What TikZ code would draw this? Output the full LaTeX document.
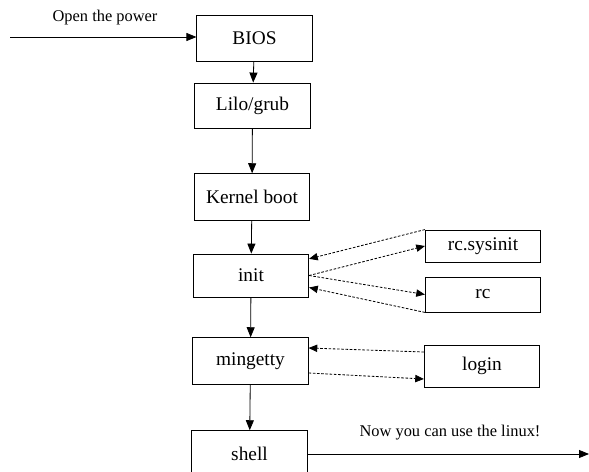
\documentclass[tikz,border=0pt]{standalone}
\usepackage{fontspec}
\setmainfont{Liberation Serif}
\usetikzlibrary{arrows.meta,backgrounds}

\begin{document}
\begin{tikzpicture}[
    x=0.3mm,y=-0.3mm,line width=0.7pt,
    font=\fontsize{16.5}{19}\selectfont,
    box/.style={draw,minimum width=34.6mm,minimum height=14mm,inner sep=0pt},
    flow/.style={-{Triangle[length=3mm,width=2.4mm]}},
    call/.style={dashed,dash pattern=on 2.2pt off 1.4pt,-{Triangle[length=2.6mm,width=2.2mm]}},
    lbl/.style={font=\fontsize{14}{17}\selectfont},
    show background rectangle,background rectangle/.style={fill=white}
]
\useasboundingbox (0,0) rectangle (589,472);

\node[box] (bios) at (254.5,38.5) {BIOS};
\node[box,minimum height=13.5mm] (lilo) at (252.5,105.5) {Lilo/grub};
\node[box] (kernel) at (252,197) {Kernel boot};
\node[box,minimum height=12.9mm] (init) at (251,275.5) {init};
\node[box] (mingetty) at (250.5,361) {mingetty};
\node[box] (shell) at (249.5,454) {shell};

\node[box,minimum height=9.6mm] (sysinit) at (483,246) {rc.sysinit};
\node[box,minimum height=10.5mm] (rc) at (483,294.5) {rc};
\node[box,minimum height=12.6mm] (login) at (482,366) {login};

\coordinate (power) at (10,37);
\coordinate (linux) at (589,454);
\node[lbl] (powertext) at (105,18) {Open the power};
\node[lbl] (linuxtext) at (450,433) {Now you can use the linux!};

\draw[flow] (power) to (bios.west |- power);
\draw[flow] (bios) to (lilo);
\draw[flow] (lilo) to (kernel);
\draw[flow] (kernel) to (init);
\draw[flow] (init) to (mingetty);
\draw[flow] (mingetty) to (shell);
\draw[flow] (shell.east) to (linux);

\draw[call] (init.east) to (sysinit.west);
\draw[call] (sysinit.north west) to ([yshift=5mm]init.east);
\draw[call] (init.east) to (rc.west);
\draw[call] (rc.south west) to ([yshift=-3.6mm]init.east);

\draw[call] ([yshift=4.2mm]login.west) to ([yshift=3.9mm]mingetty.east);
\draw[call] ([yshift=-3.6mm]mingetty.east) to ([yshift=-3.9mm]login.west);

\end{tikzpicture}
\end{document}
